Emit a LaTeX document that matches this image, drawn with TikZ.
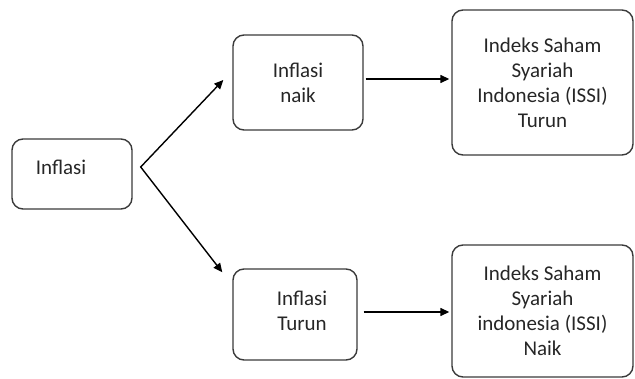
\documentclass[tikz,border=0pt]{standalone}
\usepackage{fontspec}
\setmainfont{Carlito}
\usetikzlibrary{arrows.meta}
\definecolor{txt}{HTML}{262626}
\definecolor{edge}{HTML}{3A3A3A}
\begin{document}
\begin{tikzpicture}[x=1pt,y=-1pt,
  box/.style={draw=edge,line width=1.4pt,rounded corners=11pt,inner sep=0pt},
  lbl/.style={text=txt,font=\fontsize{21}{25}\selectfont,align=center,inner sep=0pt},
  tip/.tip={Triangle[length=9pt,width=8pt]},
  arr/.style={draw=black,line width=1.4pt,-tip},
  arr2/.style={draw=black,line width=1.4pt,tip-tip,line join=miter}]
\useasboundingbox (0,0) rectangle (635,379);
% boxes
\node[box,minimum width=120pt,minimum height=70pt] (inf) at (72,174) {};
\node[lbl] (inft) at (61,167) {Inflasi};
\node[box,minimum width=130pt,minimum height=95pt,lbl] (naik) at (298,82.5) {Inflasi\\naik};
\node[box,minimum width=181pt,minimum height=145pt,lbl] (issi1) at (542.5,82.5) {Indeks Saham\\Syariah\\Indonesia (ISSI)\\Turun};
\node[box,minimum width=124pt,minimum height=91pt] (turun) at (295,314.5) {};
\node[lbl] (turunt) at (302,310.5) {Inflasi\\Turun};
\node[box,minimum width=181pt,minimum height=132pt,lbl] (issi2) at (542.5,311) {Indeks Saham\\Syariah\\indonesia (ISSI)\\Naik};
% connectors
\coordinate (v) at ([shift={(8,-7)}]inf.east);
\draw[arr2] ([shift={(-9,-2.5)}]naik.west) -- (v) -- ([shift={(-10,4)}]turun.north west);
\draw[arr] ([shift={(2,-3.5)}]naik.east) -- ([shift={(-2,-3.5)}]issi1.west);
\draw[arr] ([shift={(6,-2.5)}]turun.east) -- ([shift={(-2,1)}]issi2.west);
\end{tikzpicture}
\end{document}
